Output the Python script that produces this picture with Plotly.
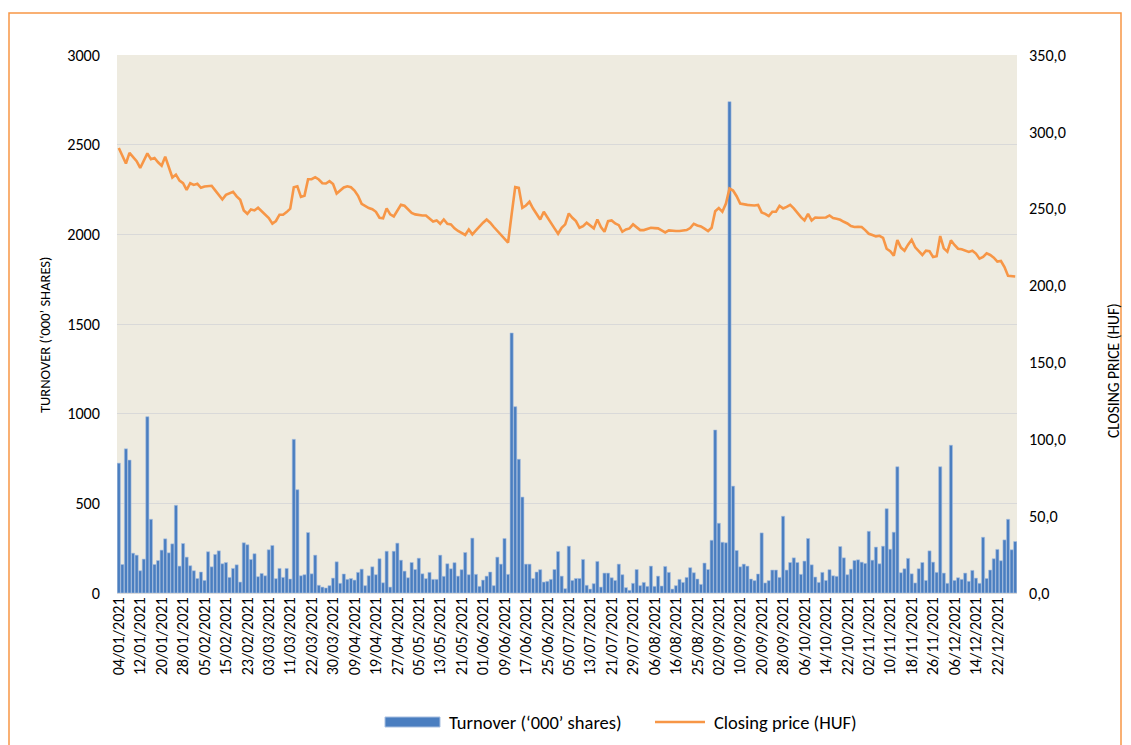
import plotly.graph_objects as go
import pandas as pd

# ---- categories: BSE trading days of 2021 ----
holidays = ['2021-03-15', '2021-04-02', '2021-04-05', '2021-05-24',
            '2021-08-20', '2021-11-01', '2021-12-24']
days = [d for d in pd.bdate_range('2021-01-04', '2021-12-30')
        if d.strftime('%Y-%m-%d') not in holidays]
dates = [d.strftime('%d/%m/%Y') for d in days]

tick_labels = ['04/01/2021', '12/01/2021', '20/01/2021', '28/01/2021', '05/02/2021', '15/02/2021',
               '23/02/2021', '03/03/2021', '11/03/2021', '22/03/2021', '30/03/2021', '09/04/2021',
               '19/04/2021', '27/04/2021', '05/05/2021', '13/05/2021', '21/05/2021', '01/06/2021',
               '09/06/2021', '17/06/2021', '25/06/2021', '05/07/2021', '13/07/2021', '21/07/2021',
               '29/07/2021', '06/08/2021', '16/08/2021', '25/08/2021', '02/09/2021', '10/09/2021',
               '20/09/2021', '28/09/2021', '06/10/2021', '14/10/2021', '22/10/2021', '02/11/2021',
               '10/11/2021', '18/11/2021', '26/11/2021', '06/12/2021', '14/12/2021', '22/12/2021']

# ---- turnover ('000 shares) ----
turnover = [
    724, 159, 804, 741, 222, 211, 124, 189, 983, 411, 159, 181, 239, 302, 224, 274, 489, 150, 276, 200,
    152, 124, 81, 117, 70, 230, 146, 215, 235, 163, 170, 87, 137, 157, 61, 280, 269, 187, 219, 91,
    109, 96, 241, 265, 80, 137, 87, 137, 78, 857, 576,
    96, 102, 337, 107, 211, 43, 33, 28, 41, 83, 174, 54, 106, 76, 81, 72, 115, 133, 41, 96,
    146, 102, 191, 57, 233, 33, 233, 278, 183, 122, 85, 170, 131, 194, 107, 80, 115, 76, 76, 211,
    93, 163, 135, 169, 94, 130, 226, 102, 306, 104,
    37, 72, 94, 117, 41, 200, 161, 304, 104, 1450, 1039, 746, 535, 161, 161, 81, 117, 130, 61, 65,
    76, 131, 231, 94, 24, 261, 70, 81, 81, 187, 43, 22, 52, 176, 33, 111, 111, 85, 70, 161,
    102, 30, 15, 54, 131, 41, 59, 37, 150, 37,
    94, 39, 148, 115, 22, 41, 76, 59, 87, 141, 113, 78, 48, 167, 131, 294, 909, 389, 283, 280,
    2740, 596, 237, 146, 161, 150, 78, 69, 106, 335, 56, 69, 128, 128, 87, 428, 128, 170, 196, 170,
    104, 178, 304, 157, 89, 59, 115, 70, 130, 96, 93,
    259, 196, 102, 133, 181, 185, 172, 165, 344, 183, 256, 163, 261, 470, 244, 339, 704, 113, 135, 193,
    107, 56, 135, 170, 70, 235, 172, 115, 704, 111, 54, 824, 70, 85, 76, 111, 65, 126, 83, 54,
    311, 81, 128, 191, 243, 180, 296, 411, 241, 287,
]

# ---- closing price (HUF) ----
price = [
    289.5, 284.5, 279.4, 286.3, 283.9, 280.9, 276.5, 280.9, 286.0, 282.2,
    283.0, 280.2, 278.0, 283.9, 277.4, 270.3, 272.2, 268.3, 266.6, 262.3,
    266.6, 265.5, 266.2, 263.6, 264.5, 264.7, 264.9, 261.9, 258.6, 256.0,
    259.0, 259.9, 261.0, 258.0, 255.8, 248.9, 246.7, 249.5, 248.9, 250.6,
    248.2, 246.3, 243.9, 240.3, 242.0, 246.1, 246.1, 247.8, 250.0,
    263.9, 264.6, 257.7, 258.5, 269.2, 269.2, 270.5, 269.0, 266.6, 266.4,
    267.9, 266.1, 259.9, 261.6, 263.8, 264.6, 264.0, 261.8, 258.4, 253.2,
    251.9, 250.4, 249.7, 248.0, 244.1, 243.7, 250.2, 246.3, 245.0, 248.9,
    252.5, 251.9, 249.5, 247.3, 246.3, 245.8, 245.6, 245.6, 243.7, 241.7,
    242.4, 240.2, 243.0, 240.2, 239.8, 237.2, 235.5, 234.4, 232.9, 236.5,
    233.3, 235.9, 238.7, 240.9, 243.0, 240.9, 238.1, 235.5, 232.7, 230.1,
    227.9, 246.3, 264.0, 263.5, 250.6, 252.1, 254.5, 250.1, 246.3, 243.0,
    248.0, 244.1, 240.9, 237.2, 233.7, 237.6, 239.8, 246.9, 244.1, 241.9,
    237.6, 238.7, 240.9, 239.3, 237.2, 243.0, 238.1, 235.0, 241.9, 242.4,
    240.4, 239.3, 235.0, 236.5, 237.2, 239.8, 238.1, 236.1, 236.1, 237.0,
    237.6,
    237.4, 237.2, 235.9, 234.6, 235.9, 235.5, 235.5, 235.5, 235.7, 236.1,
    237.4, 240.2, 239.1, 238.5, 237.0, 235.5, 237.6, 248.4, 250.4, 248.0,
    253.4, 263.1, 261.8, 258.1, 253.4, 252.7, 252.5, 252.3, 252.1, 252.5,
    247.6, 246.7, 245.2, 248.0, 248.0, 251.9, 250.2, 251.2, 252.5, 250.2,
    247.3, 244.5, 242.4, 246.7, 242.4, 244.3, 244.1, 244.1, 244.3, 245.6,
    243.9, 243.5, 242.8, 241.5, 240.4, 238.7, 238.1, 238.3, 238.1, 236.1,
    233.7, 232.9, 232.0, 232.4, 231.1, 224.0, 222.3, 219.5, 229.6, 224.7,
    222.7, 226.6, 229.8, 224.9, 222.5, 219.9, 222.7, 222.3, 218.6, 219.1,
    232.2, 224.2, 222.1, 229.4, 226.4, 224.0, 223.6, 222.5, 221.9, 222.7,
    220.8, 217.5, 218.6, 221.0, 219.9, 218.2, 215.6, 216.0, 212.1, 206.3,
    205.9, 205.9,
]

series_names = ['Turnover (‘000’ shares)', 'Closing price (HUF)']
left_ticks = [0, 500, 1000, 1500, 2000, 2500, 3000]
right_ticks = [0, 50, 100, 150, 200, 250, 300, 350]
right_ticktext = ['0,0', '50,0', '100,0', '150,0', '200,0', '250,0', '300,0', '350,0']

FONT = 'Carlito, Calibri, Lato, sans-serif'
BAR_COLOR = '#4A7EC0'
BAR_EDGE = '#A8BFE0'
LINE_COLOR = '#F79646'


def px_x(px):  # page pixel -> paper x (plot area spans page x 117..1017)
    return (px - 117) / 900


def px_y(py):  # page pixel -> paper y (plot area spans page y 55..593)
    return (593 - py) / 538


fig = go.Figure()
fig.add_trace(go.Bar(
    x=dates, y=turnover, name=series_names[0],
    marker=dict(color=BAR_COLOR, line=dict(color=BAR_EDGE, width=0.6)),
    yaxis='y',
))
fig.add_trace(go.Scatter(
    x=dates, y=price, name=series_names[1], mode='lines',
    line=dict(color=LINE_COLOR, width=2.6),
    yaxis='y2',
))

# legend drawn Excel-style (wide swatches) with shapes + text
legend_shapes = [
    dict(type='rect', xref='paper', yref='paper', x0=px_x(385), x1=px_x(440),
         y0=px_y(727), y1=px_y(717), fillcolor=BAR_COLOR, line=dict(color=BAR_EDGE, width=1)),
    dict(type='line', xref='paper', yref='paper', x0=px_x(655), x1=px_x(705),
         y0=px_y(722), y1=px_y(722), line=dict(color=LINE_COLOR, width=2.6)),
]
legend_texts = [
    dict(text=series_names[0], xref='paper', yref='paper', x=px_x(447), y=px_y(722),
         xanchor='left', yanchor='middle', showarrow=False, font=dict(size=18.5)),
    dict(text=series_names[1], xref='paper', yref='paper', x=px_x(712), y=px_y(722),
         xanchor='left', yanchor='middle', showarrow=False, font=dict(size=18.5)),
]

# page has an 8 px body margin: plot area should land at x 117-1017, y 55-593 on the page
fig.update_layout(
    width=1123, height=737,
    margin=dict(l=109, r=114, t=47, b=152, autoexpand=False),
    paper_bgcolor='white',
    plot_bgcolor='#EEEBE0',
    font=dict(family=FONT, size=14, color='#000000'),
    bargap=0.12,
    showlegend=False,
    xaxis=dict(type='category', categoryorder='array', categoryarray=dates,
               tickmode='array', tickvals=tick_labels, ticktext=tick_labels,
               tickangle=-90, tickfont=dict(size=16.2), showgrid=False, ticks='',
               showline=False, zeroline=False, automargin=False),
    yaxis=dict(range=[0, 3000], tickmode='array', tickvals=left_ticks,
               showgrid=True, gridcolor='#D9D9D9', gridwidth=1.3,
               zeroline=True, zerolinecolor='#D9D9D9', zerolinewidth=1.3,
               ticks='', ticklabelstandoff=16, tickfont=dict(size=16.2), automargin=False),
    yaxis2=dict(range=[0, 350], overlaying='y', side='right', tickmode='array',
                tickvals=right_ticks, ticktext=right_ticktext, showgrid=False,
                zeroline=False, ticks='', ticklabelstandoff=11, tickfont=dict(size=16.2),
                automargin=False),
    annotations=[
        dict(text='TURNOVER (‘000’ SHARES)', xref='paper', yref='paper',
             x=px_x(45), y=px_y(335), textangle=-90, showarrow=False,
             xanchor='center', yanchor='middle', font=dict(size=14.5)),
        dict(text='CLOSING PRICE (HUF)', xref='paper', yref='paper',
             x=px_x(1113), y=px_y(371), textangle=-90, showarrow=False,
             xanchor='center', yanchor='middle', font=dict(size=15.5)),
    ] + legend_texts,
    shapes=[dict(type='rect', xref='paper', yref='paper',
                 x0=px_x(9), x1=px_x(1121), y0=px_y(760), y1=px_y(13),
                 line=dict(color=LINE_COLOR, width=1.5), fillcolor='rgba(0,0,0,0)', layer='below')]
           + legend_shapes,
)

fig.write_html('out.html')
